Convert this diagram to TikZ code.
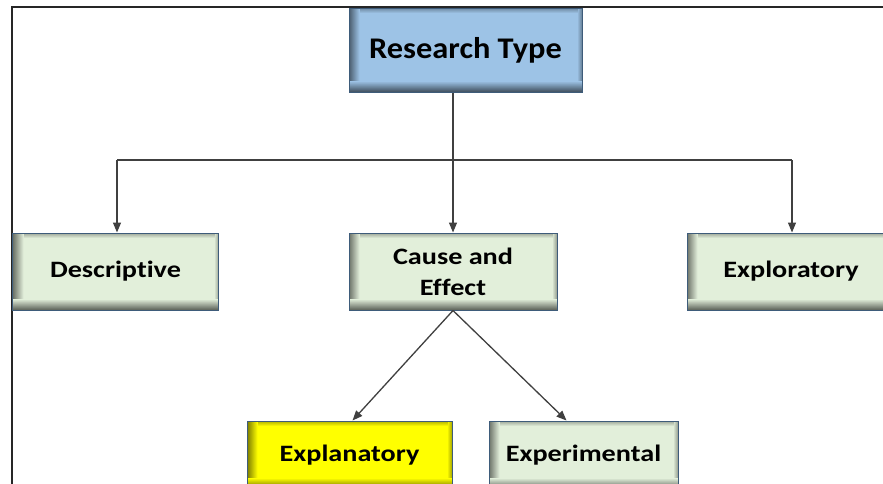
\documentclass[tikz,border=0pt]{standalone}
\usepackage{fontspec}
\setmainfont{Carlito}[Ligatures=NoCommon]
\newfontfamily\boxfont{Carlito}[FakeStretch=1.2, Ligatures=NoCommon]
\newfontfamily\rtfont{Carlito}[FakeStretch=1.08, Ligatures=NoCommon]
\usetikzlibrary{arrows.meta,calc}
\definecolor{rtblue}{HTML}{9DC3E6}
\definecolor{boxgreen}{HTML}{E2EFDA}
\definecolor{boxyellow}{HTML}{FFFF00}
\definecolor{edgeblue}{HTML}{3E5C7A}
\definecolor{conn}{HTML}{404040}
\begin{document}
\begin{tikzpicture}[x=1pt,y=-1pt,
  box/.style={draw=edgeblue, line width=1pt, fill=#1, inner sep=0pt, align=center,
    font=\boxfont\bfseries\fontsize{23.5}{31}\selectfont,
    path picture={
      \foreach \i [evaluate=\i as \p using int(70+6*\i)] in {0,...,4}{
        \fill[#1!\p!black] ([yshift=-\i pt]path picture bounding box.north west) rectangle ([yshift=-\i pt-1pt]path picture bounding box.north east);
      }
      \foreach \i [evaluate=\i as \p using int(72+7*\i)] in {0,...,3}{
        \fill[#1!\p!black] ([xshift=-\i pt]path picture bounding box.south east) rectangle ([xshift=-\i pt-1pt]path picture bounding box.north east);
      }
      \foreach \i [evaluate=\i as \p using int(48+5*\i)] in {0,...,10}{
        \fill[#1!\p!black] ([xshift=\i pt]path picture bounding box.south west) rectangle ([xshift=\i pt+1pt]path picture bounding box.north west);
      }
      \foreach \i [evaluate=\i as \p using int(45+5.5*\i)] in {0,...,10}{
        \fill[#1!\p!black] ([yshift=\i pt]path picture bounding box.south west) rectangle ([yshift=\i pt+1pt]path picture bounding box.south east);
      }
    }},
  conline/.style={draw=conn, line width=1.3pt},
  arr/.style={conline, -{Triangle[length=10pt,width=8pt]}}]
\useasboundingbox (0,0) rectangle (883,483);
\clip (0,0) rectangle (883,483);
\fill[white] (0,0) rectangle (883,483);
% frame
\draw[black!85, line width=2pt] (12,490) -- (12,7) -- (890,7);
% nodes
\node[box=rtblue, minimum width=233pt, minimum height=84pt, font=\rtfont\bfseries\fontsize{30}{34}\selectfont] (rt) at (465.5,50) {Research Type};
\node[box=boxgreen, minimum width=206pt, minimum height=77pt] (desc) at (115.5,271.5) {Descriptive};
\node[box=boxgreen, minimum width=208pt, minimum height=77pt] (cae) at (453,271.5) {Cause and\\Effect};
\node[box=boxgreen, minimum width=208pt, minimum height=77pt] (explor) at (791,271.5) {Exploratory};
\node[box=boxyellow, minimum width=205pt, minimum height=68pt] (expla) at (349.5,455) {Explanatory};
\node[box=boxgreen, minimum width=189pt, minimum height=68pt] (expe) at (583.5,455) {Experimental};
% connectors
\coordinate (j) at (453,160);
\draw[arr] (rt.south -| cae.north) -- (cae.north);
\draw[conline] ([xshift=1.5pt]desc.north |- j) -- ([xshift=1pt]explor.north |- j);
\draw[arr] ([xshift=1.5pt]desc.north |- j) -- ([xshift=1.5pt]desc.north);
\draw[arr] ([xshift=1pt]explor.north |- j) -- ([xshift=1pt]explor.north);
\draw[arr] (cae.south) -- ([xshift=3pt]expla.north);
\draw[arr] (cae.south) -- ([xshift=-17pt]expe.north);
\end{tikzpicture}
\end{document}
